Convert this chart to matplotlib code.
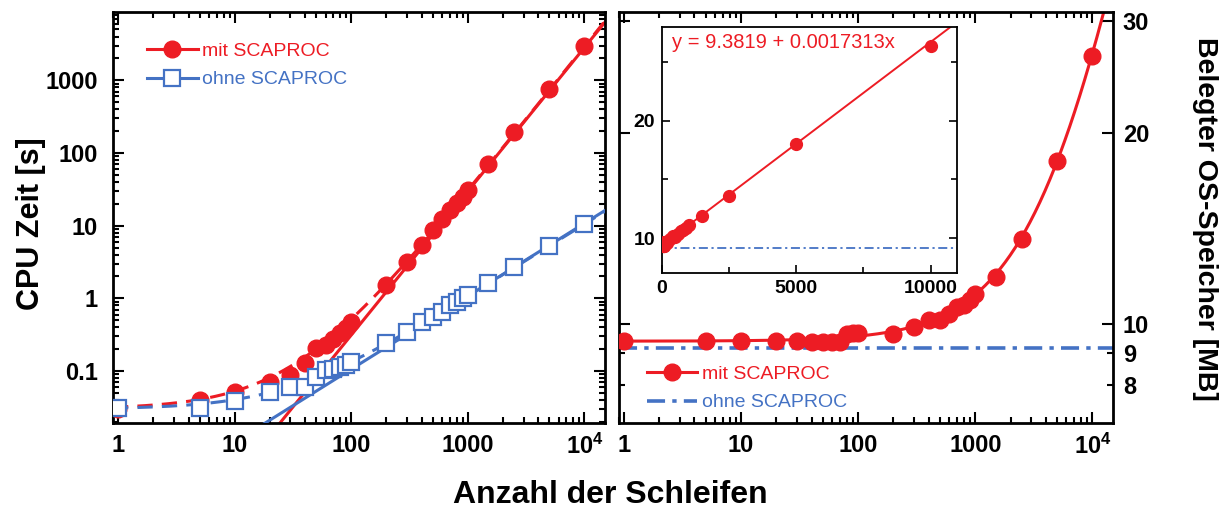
import numpy as np
import matplotlib
matplotlib.use('Agg')
import matplotlib.pyplot as plt
from matplotlib.lines import Line2D
from matplotlib.ticker import FixedLocator, FixedFormatter, NullFormatter, LogLocator

plt.rcParams['font.family'] = ['Liberation Sans', 'DejaVu Sans']
plt.rcParams['mathtext.fontset'] = 'custom'
plt.rcParams['mathtext.rm'] = 'Liberation Sans:bold'
plt.rcParams['mathtext.it'] = 'Liberation Sans:bold'
plt.rcParams['mathtext.bf'] = 'Liberation Sans:bold'

RED = '#ED1C24'
BLUE = '#4472C4'

# number of loops (same x for every series)
n_loops = [1, 5, 10, 20, 30, 40, 50, 60, 70, 80, 90, 100, 200, 300, 400, 500,
           600, 700, 800, 900, 1000, 1500, 2500, 5000, 10000]
# CPU time [s]
cpu_mit = [0.030, 0.040, 0.051, 0.071, 0.088, 0.130, 0.21, 0.23, 0.28, 0.33, 0.39, 0.48,
           1.52, 3.18, 5.4, 8.7, 12.5, 16.3, 20.2, 24.9, 31.4, 71.6, 195, 768, 2930]
cpu_ohne = [0.0307, 0.0307, 0.039, 0.051, 0.060, 0.061, 0.084, 0.103, 0.108, 0.115, 0.12,
            0.134, 0.24, 0.35, 0.48, 0.56, 0.65, 0.81, 0.90, 1.0, 1.13, 1.64, 2.72, 5.28, 10.7]
# occupied OS memory [MB]
mem_mit = [9.40, 9.40, 9.40, 9.40, 9.40, 9.36, 9.36, 9.36, 9.36, 9.62, 9.65, 9.65,
           9.62, 9.88, 10.14, 10.12, 10.37, 10.62, 10.68, 10.88, 11.14, 11.86, 13.61,
           18.05, 26.4]
mem_ohne = 9.14

# fit curves
fit_mit_poly = [0.03, 0.002, 2.9e-5]     # a + b*n + c*n^2
fit_mit_pow = [3.5e-5, 1.977]            # A * n^k
fit_ohne_lin = [0.03, 1.05e-3]           # a + b*n
fit_ohne_pow = [1.05e-3, 1.003]          # A * n^k
mem_fit = [9.3819, 0.0017313]            # y = a + b*x
mem_fit_label = 'y = 9.3819 + 0.0017313x'

x_ticks = [1, 10, 100, 1000, 10000]
x_ticklabels = ['1', '10', '100', '1000', r'$10^4$']
cpu_ticks = [0.1, 1, 10, 100, 1000]
cpu_ticklabels = ['0.1', '1', '10', '100', '1000']

TICK_FS = 17
fig = plt.figure(figsize=(12.23, 5.08), dpi=100)
ax1 = fig.add_axes([0.0924, 0.1673, 0.4023, 0.809])
ax2 = fig.add_axes([0.5058, 0.1673, 0.4043, 0.809])
axin = fig.add_axes([0.5413, 0.462, 0.2416, 0.4854])


def style_log_axis(ax):
    ax.set_xscale('log')
    ax.set_xlim(0.9, 1.5e4)
    ax.xaxis.set_major_locator(FixedLocator(x_ticks))
    ax.xaxis.set_major_formatter(FixedFormatter(x_ticklabels))
    ax.xaxis.set_minor_locator(LogLocator(base=10, subs=np.arange(2, 10), numticks=20))
    ax.xaxis.set_minor_formatter(NullFormatter())
    for s in ax.spines.values():
        s.set_linewidth(2)
    ax.tick_params(which='both', direction='in', top=True, right=True, width=1.5,
                   labelsize=TICK_FS)
    ax.tick_params(which='major', length=8, pad=8)
    ax.tick_params(which='minor', length=4)
    for lab in ax.get_xticklabels() + ax.get_yticklabels():
        lab.set_fontweight('bold')


# ---- left panel: CPU time ----
nn = np.logspace(np.log10(0.9), np.log10(1.5e4), 400)
ax1.plot(nn, fit_mit_pow[0] * nn ** fit_mit_pow[1], color=RED, lw=2.2, zorder=2)
ax1.plot(nn, fit_mit_poly[0] + fit_mit_poly[1] * nn + fit_mit_poly[2] * nn ** 2,
         color=RED, lw=2.2, ls=(0, (5, 3)), zorder=2)
ax1.plot(n_loops, cpu_mit, 'o', color=RED, ms=12, zorder=3)
ax1.plot(nn, fit_ohne_pow[0] * nn ** fit_ohne_pow[1], color=BLUE, lw=2.2, zorder=4)
ax1.plot(nn, fit_ohne_lin[0] + fit_ohne_lin[1] * nn, color=BLUE, lw=2.2,
         ls=(0, (5, 3)), zorder=4)
ax1.plot(n_loops, cpu_ohne, 's', mfc='white', mec=BLUE, mew=1.6, ms=11, zorder=5)
ax1.set_yscale('log')
ax1.set_ylim(0.0193, 8690)
ax1.yaxis.set_major_locator(FixedLocator(cpu_ticks))
ax1.yaxis.set_major_formatter(FixedFormatter(cpu_ticklabels))
ax1.yaxis.set_minor_locator(LogLocator(base=10, subs=np.arange(2, 10), numticks=20))
ax1.yaxis.set_minor_formatter(NullFormatter())
style_log_axis(ax1)
ax1.tick_params(axis='y', which='major', pad=11)

h1 = [Line2D([], [], color=RED, lw=2.2, marker='o', ms=12),
      Line2D([], [], color=BLUE, lw=2.2, marker='s', mfc='white', mec=BLUE, mew=1.6, ms=11)]
ax1.legend(h1, ['mit SCAPROC', 'ohne SCAPROC'], loc='upper left',
           bbox_to_anchor=(0.069, 0.926), frameon=False, fontsize=14,
           handlelength=2.6, handletextpad=0.25, labelspacing=0.55,
           borderpad=0, borderaxespad=0, labelcolor='linecolor')

# ---- right panel: memory ----
ax2.plot(nn, mem_fit[0] + mem_fit[1] * nn, color=RED, lw=2.2, zorder=2)
ax2.plot(n_loops, mem_mit, 'o', color=RED, ms=12, zorder=3)
ax2.axhline(mem_ohne, color=BLUE, lw=2.6, ls=(0, (5, 2, 1.2, 2)), zorder=1)
ax2.set_yscale('log')
ax2.set_ylim(6.97, 31.0)
ax2.yaxis.set_major_locator(FixedLocator([10, 20, 30]))
ax2.yaxis.set_major_formatter(FixedFormatter(['10', '20', '30']))
ax2.yaxis.set_minor_locator(FixedLocator([8, 9]))
ax2.yaxis.set_minor_formatter(FixedFormatter(['8', '9']))
style_log_axis(ax2)
ax2.tick_params(axis='y', which='both', labelleft=False, labelright=True, pad=7,
                labelsize=TICK_FS)
for lab in ax2.get_yticklabels(which='both'):
    lab.set_fontweight('bold')

h2 = [Line2D([], [], color=RED, lw=2.2, marker='o', ms=12),
      Line2D([], [], color=BLUE, lw=2.6, ls=(0, (5, 2, 1.2, 2)))]
ax2.legend(h2, ['mit SCAPROC', 'ohne SCAPROC'], loc='upper left',
           bbox_to_anchor=(0.057, 0.14), frameon=False, fontsize=14,
           handlelength=2.6, handletextpad=0.25, labelspacing=0.55,
           borderpad=0, borderaxespad=0, labelcolor='linecolor')

# ---- inset: linear memory ----
xl = np.linspace(0, 11000, 200)
axin.plot(xl, mem_fit[0] + mem_fit[1] * xl, color=RED, lw=1.4, zorder=2)
axin.plot(n_loops, mem_mit, 'o', color=RED, ms=8.5, zorder=3)
axin.axhline(mem_ohne, color=BLUE, lw=1.3, ls=(0, (5, 2, 1.2, 2)), zorder=1)
axin.set_xlim(0, 11000)
axin.set_ylim(7, 28)
axin.set_xticks([0, 5000, 10000])
axin.set_xticks([2500, 7500], minor=True)
axin.set_yticks([10, 20])
axin.set_yticks([15, 25], minor=True)
for s in axin.spines.values():
    s.set_linewidth(1.3)
axin.tick_params(which='both', direction='in', left=True, right=True, top=False,
                 width=1.2, labelsize=14)
axin.tick_params(which='major', length=6, pad=5)
axin.tick_params(which='minor', length=4)
for lab in axin.get_xticklabels() + axin.get_yticklabels():
    lab.set_fontweight('bold')
axin.text(0.035, 0.935, mem_fit_label, transform=axin.transAxes, color=RED,
          fontsize=14.5, va='center', ha='left')

# ---- axis titles ----
fig.text(0.499, 0.026, 'Anzahl der Schleifen', fontsize=23, fontweight='bold',
         ha='center', va='center')
fig.text(0.025, 0.56, 'CPU Zeit [s]', fontsize=22, fontweight='bold',
         rotation=90, ha='center', va='center')
fig.text(0.985, 0.57, 'Belegter OS-Speicher [MB]', fontsize=20.5, fontweight='bold',
         rotation=270, ha='center', va='center')

fig.savefig('out.png', dpi=100)
